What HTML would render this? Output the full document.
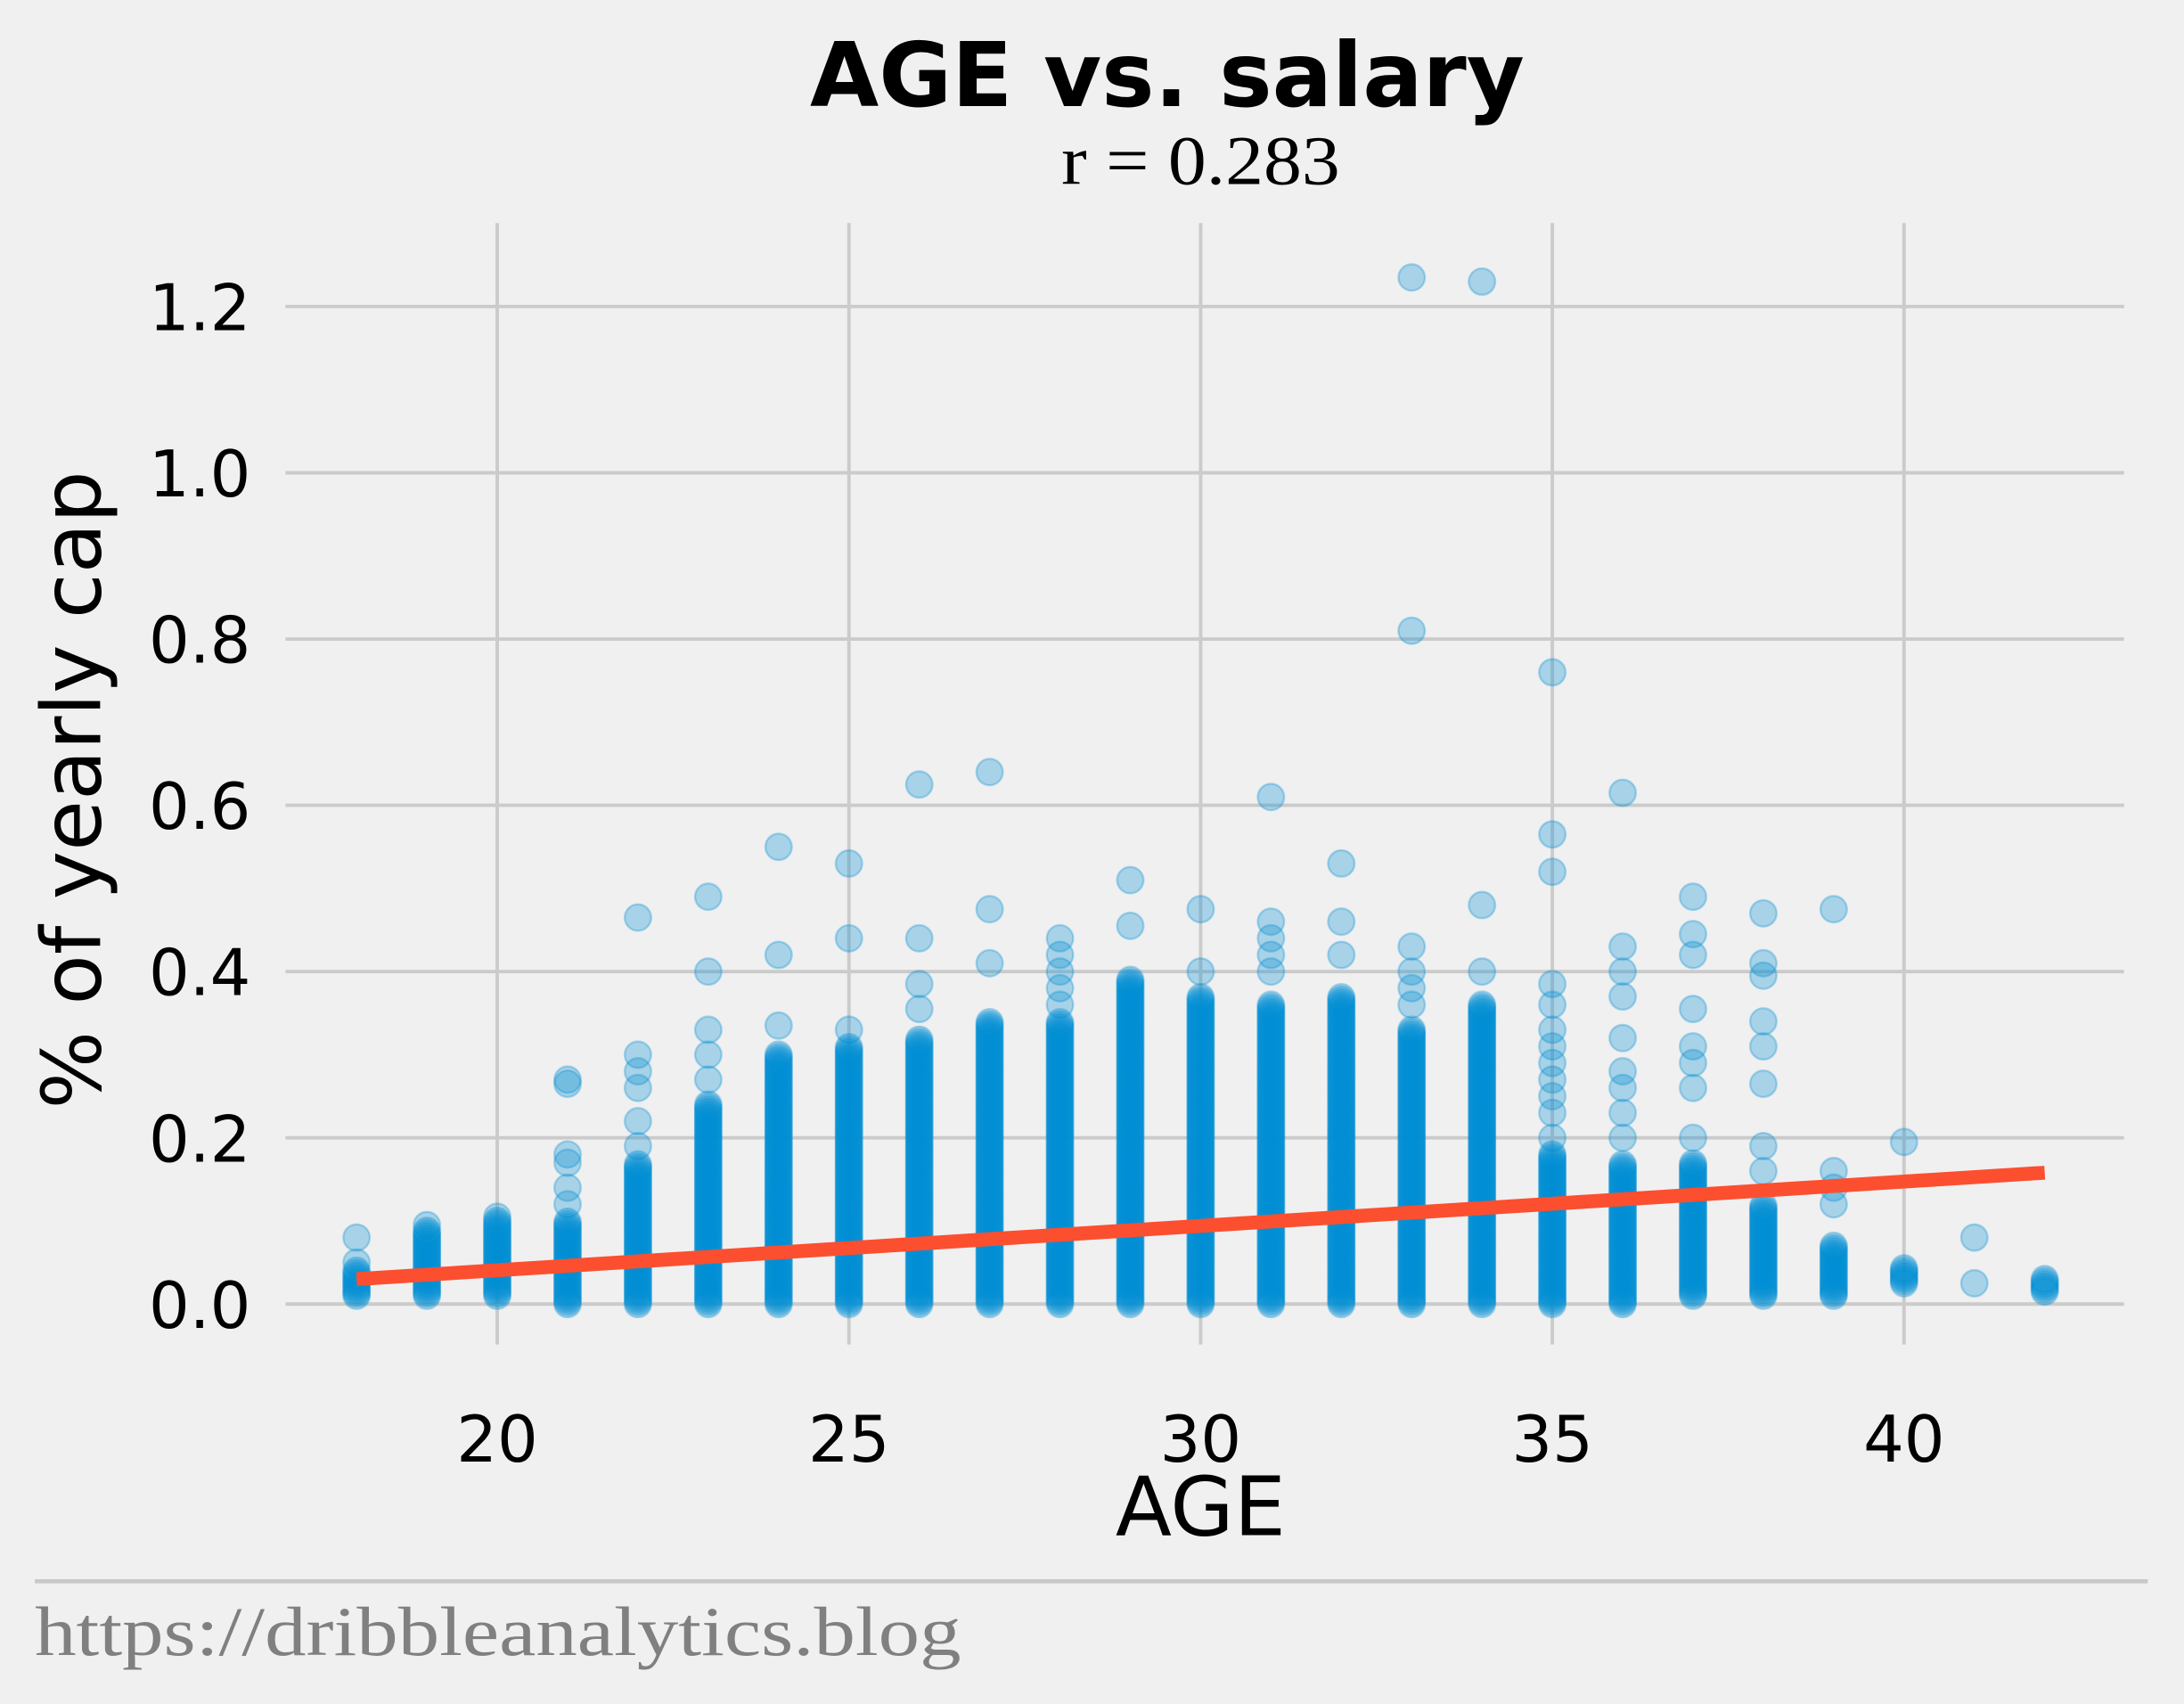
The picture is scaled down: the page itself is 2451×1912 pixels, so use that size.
<!DOCTYPE html>
<html><head><meta charset="utf-8"><style>
html,body{margin:0;padding:0;background:#f0f0f0;}
svg{display:block;}
</style></head><body>
<svg id="chart" width="2451" height="1912" viewBox="0 0 1568 1223" xmlns="http://www.w3.org/2000/svg">
<rect width="1568" height="1223" fill="#f0f0f0"/>
<g id="grid"></g>
<g id="points"></g>
<g id="fit"></g>
<g id="ticks"></g>
<text x="838" y="76" text-anchor="middle" font-family="DejaVu Sans, sans-serif" font-weight="bold" font-size="64" textLength="513" lengthAdjust="spacingAndGlyphs">AGE vs. salary</text>
<text x="862" y="132" text-anchor="middle" font-family="Liberation Serif, serif" font-size="50" textLength="200" lengthAdjust="spacingAndGlyphs">r = 0.283</text>
<text x="862" y="1102" text-anchor="middle" font-family="DejaVu Sans, sans-serif" font-size="59">AGE</text>
<text transform="translate(72,567) rotate(-90)" text-anchor="middle" font-family="DejaVu Sans, sans-serif" font-size="59">% of yearly cap</text>
<line x1="25" y1="1135" x2="1542" y2="1135" stroke="#c8c8c8" stroke-width="3"/>
<text x="25" y="1188" font-family="Liberation Serif, serif" font-size="50" fill="#808080" textLength="665" lengthAdjust="spacingAndGlyphs">https://dribbleanalytics.blog</text>
</svg>
<script>
const ages = [18,19,20,21,22,23,24,25,26,27,28,29,30,31,32,33,34,35,36,37,38,39,40,41,42];
const denseLo = [0.01,0.01,0.01,0,0,0,0,0,0,0,0,0,0,0,0,0,0,0,0,0.01,0.01,0.01,0.025,0.025,0.015];
const denseHi = [0.04,0.09,0.10,0.10,0.17,0.24,0.30,0.31,0.32,0.34,0.34,0.39,0.37,0.36,0.37,0.33,0.36,0.18,0.17,0.17,0.12,0.07,0.045,0.025,0.03];
const extras = [
 [0.05,0.08],[0.095],[0.105],[0.12,0.14,0.17,0.18,0.265,0.27],[0.19,0.22,0.26,0.28,0.30,0.465],
 [0.27,0.30,0.33,0.40,0.49],[0.335,0.42,0.55],[0.33,0.44,0.53],[0.355,0.385,0.44,0.625],[0.41,0.475,0.64],
 [0.36,0.38,0.40,0.42,0.44],[0.455,0.51],[0.40,0.475],[0.40,0.42,0.44,0.46,0.61],[0.42,0.46,0.53],
 [0.36,0.38,0.40,0.43,0.81,1.235],[0.40,0.48,1.23],[0.20,0.23,0.25,0.27,0.29,0.31,0.33,0.36,0.385,0.52,0.565,0.76],
 [0.20,0.23,0.26,0.28,0.32,0.37,0.40,0.43,0.615],[0.20,0.26,0.29,0.31,0.355,0.42,0.445,0.49],
 [0.16,0.19,0.265,0.31,0.34,0.395,0.41,0.47],[0.12,0.14,0.16,0.475],[0.195],[0.08],[]
];
const xTicks = [20,25,30,35,40];
const yTicks = [0.0,0.2,0.4,0.6,0.8,1.0,1.2];
const yTickLabels = ["0.0","0.2","0.4","0.6","0.8","1.0","1.2"];
const fitStart = [18,0.03];
const fitEnd = [42,0.158];

const NS="http://www.w3.org/2000/svg";
const X = v => 357 + (v-20)*50.5;
const Y = v => 936 - v*596.7;
function mk(tag, attrs, parent){const e=document.createElementNS(NS,tag);for(const k in attrs)e.setAttribute(k,attrs[k]);parent.appendChild(e);return e;}
const grid=document.getElementById('grid'), pts=document.getElementById('points'), fit=document.getElementById('fit'), ticks=document.getElementById('ticks');
xTicks.forEach(t=>{
  const l=mk('line',{x1:X(t),x2:X(t),y1:160,y2:965,stroke:'#cbcbcb','stroke-width':2.5},grid);
  
  
  const tx=mk('text',{x:X(t),y:1049,'text-anchor':'middle','font-family':'DejaVu Sans, sans-serif','font-size':46},ticks);
  tx.textContent=t;
  
  
});
yTicks.forEach((t,i)=>{
  const l=mk('line',{x1:205,x2:1525,y1:Y(t),y2:Y(t),stroke:'#cbcbcb','stroke-width':2.5},grid);
  
  
  const tx=mk('text',{x:180,y:Y(t)+17,'text-anchor':'end','font-family':'DejaVu Sans, sans-serif','font-size':46},ticks);
  tx.textContent=yTickLabels[i];
  
  
});
function dot(a,v){
  const c=mk('circle',{cx:X(a),cy:Y(v),r:9.5,fill:'#008fd5','fill-opacity':0.3,stroke:'#008fd5','stroke-opacity':0.3,'stroke-width':1.5},pts);
  
  
}
ages.forEach((a,i)=>{
  for(let v=denseLo[i]; v<=denseHi[i]+1e-9; v+=0.003) dot(a,v);
  extras[i].forEach(v=>dot(a,v));
});
const fl=mk('line',{x1:X(fitStart[0]),y1:Y(fitStart[1]),x2:X(fitEnd[0]),y2:Y(fitEnd[1]),stroke:'#fc4f30','stroke-width':10},fit);


</script>
</body></html>
